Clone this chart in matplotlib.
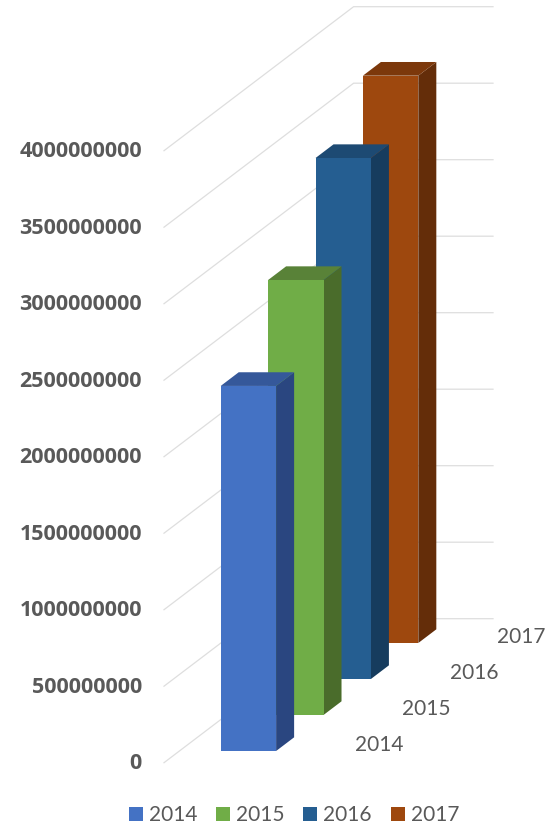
from matplotlib import pyplot as plt
from matplotlib.patches import Patch

years = ['2014', '2015', '2016', '2017']
values = [2386000000, 2843000000, 3405000000, 3708000000]
y_ticks = [0, 500000000, 1000000000, 1500000000, 2000000000,
           2500000000, 3000000000, 3500000000, 4000000000]
front_colors = ['#4472C4', '#70AD47', '#255E91', '#9E480E']
side_colors = ['#2A4680', '#4A6C2B', '#163C5E', '#642D09']
top_colors = ['#35589A', '#598238', '#1D4A73', '#7C380B']

# oblique projection: one depth slot moves a point right and up on the page
PX_PER_VALUE = 76.5 / 500000000
SLOT_DX = 47.4
SLOT_DY = 36.0 / PX_PER_VALUE
ZERO_Y = 762.7
FLOOR_LEFT = 164
BAR_LEFT = 205.3
BAR_WIDTH = 55.4
BAR_DEPTH = 0.38
BAR_GAP = 0.325
WALL_RIGHT = 493
LABEL_SHIFT = 1.6 / PX_PER_VALUE


def project(x, value, depth):
    return x + depth * SLOT_DX, value + depth * SLOT_DY


def draw_face(corners, color):
    xs = [project(*c)[0] for c in corners]
    ys = [project(*c)[1] for c in corners]
    ax.fill(xs, ys, color=color, lw=0, zorder=3)


fig = plt.figure(figsize=(5.45, 8.27), dpi=100)
ax = fig.add_axes([0, 0, 1, 1])
ax.set_xlim(0, 545)
ax.set_ylim(-(827 - ZERO_Y) / PX_PER_VALUE, ZERO_Y / PX_PER_VALUE)
ax.axis('off')

n = len(years)
for tick in y_ticks:
    back_x, back_y = project(FLOOR_LEFT, tick, n)
    ax.plot([FLOOR_LEFT, back_x, WALL_RIGHT], [tick, back_y, back_y],
            color='#DEDEDE', lw=0.9, solid_joinstyle='miter', zorder=1)
    ax.text(142, tick + LABEL_SHIFT, str(tick), ha='right', va='center_baseline',
            family='Open Sans', weight='bold', fontsize=15.5, color='#595959')

# back to front so nearer columns cover the ones behind them
for i in range(n - 1, -1, -1):
    v = values[i]
    d0 = i + BAR_GAP
    d1 = d0 + BAR_DEPTH
    x0 = BAR_LEFT
    x1 = BAR_LEFT + BAR_WIDTH
    draw_face([(x1, 0, d0), (x1, 0, d1), (x1, v, d1), (x1, v, d0)], side_colors[i])
    draw_face([(x0, v, d0), (x1, v, d0), (x1, v, d1), (x0, v, d1)], top_colors[i])
    draw_face([(x0, 0, d0), (x1, 0, d0), (x1, v, d0), (x0, v, d0)], front_colors[i])

    label_x, label_y = project(331.3, 0, i + 0.5)
    ax.text(label_x, label_y, years[i], ha='left', va='center',
            family='Lato', fontsize=15, color='#595959')

handles = [Patch(color=c, lw=0, label=y) for c, y in zip(front_colors, years)]
ax.legend(handles=handles, ncol=4, frameon=False, loc='center',
          bbox_to_anchor=(294 / 545, 1 - 815 / 827),
          prop={'family': 'Lato', 'size': 15}, labelcolor='#595959',
          handlelength=0.67, handleheight=0.67, handletextpad=0.29,
          columnspacing=0.91, borderpad=0, borderaxespad=0)

plt.savefig('out.png', dpi=100)
